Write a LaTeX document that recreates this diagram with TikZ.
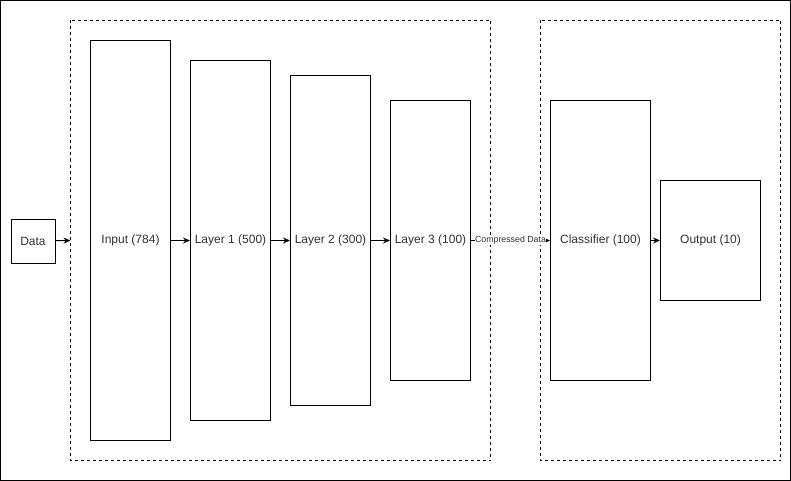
\documentclass[tikz,border=0pt]{standalone}
\usepackage{fontspec}
\setmainfont{Liberation Sans}
\usetikzlibrary{arrows.meta}
\definecolor{txt}{HTML}{333333}
\begin{document}
\begin{tikzpicture}[x=1pt,y=-1pt,
  layer/.style={draw=black,line width=1pt,fill=white,inner sep=0pt,font=\fontsize{12}{14}\selectfont,text=txt},
  group/.style={draw=black,line width=0.8pt,dash pattern=on 3pt off 3pt},
  conn/.style={line width=1pt,-{Stealth[length=7pt,width=6pt]}}]
\useasboundingbox (0,0) rectangle (791,481);
\draw[line width=1pt] (0.5,0.5) rectangle (790.5,480.5);
\draw[group] (70.5,20.5) rectangle (490.5,460.5);
\coordinate (gin) at (70.5,240.5);
\draw[group] (540.5,20.5) rectangle (780.5,460.5);
\node[layer,minimum width=44pt,minimum height=44pt] (data) at (33,241) {Data};
\node[layer,minimum width=80pt,minimum height=400pt] (in) at (130.5,240.5) {Input (784)};
\node[layer,minimum width=80pt,minimum height=360pt] (l1) at (230.5,240.5) {Layer 1 (500)};
\node[layer,minimum width=80pt,minimum height=330pt] (l2) at (330.5,240.5) {Layer 2 (300)};
\node[layer,minimum width=80pt,minimum height=280pt] (l3) at (430.5,240.5) {Layer 3 (100)};
\node[layer,minimum width=100pt,minimum height=280pt] (cl) at (600.5,240.5) {Classifier (100)};
\node[layer,minimum width=100pt,minimum height=120pt] (out) at (710.5,240.5) {Output (10)};
\draw[conn] (data) -- (gin);
\draw[conn] (in) -- (l1);
\draw[conn] (l1) -- (l2);
\draw[conn] (l2) -- (l3);
\draw[conn] (l3) -- node[fill=white,inner sep=0.5pt,font=\fontsize{8.8}{10}\selectfont,text=txt] {Compressed Data} (cl);
\draw[conn] (cl) -- (out);
\end{tikzpicture}
\end{document}
